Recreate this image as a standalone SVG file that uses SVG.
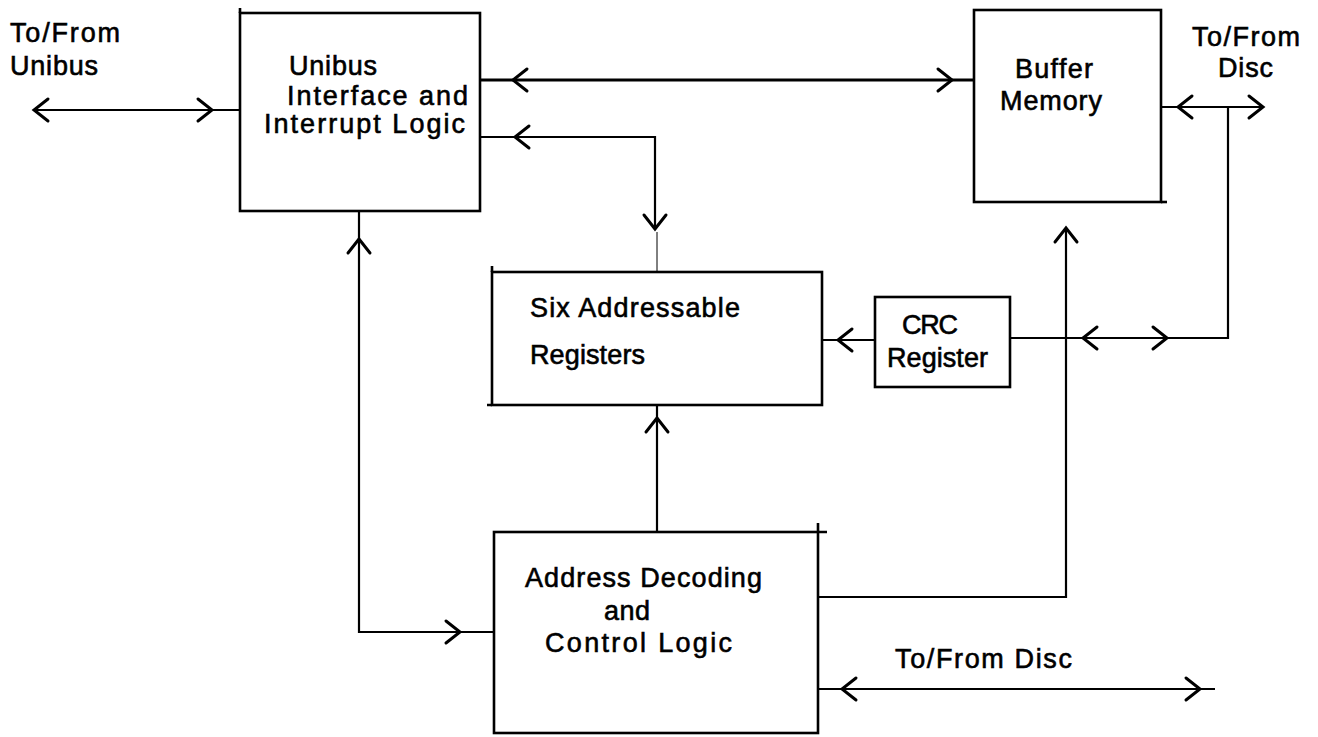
<svg xmlns="http://www.w3.org/2000/svg" xmlns:xlink="http://www.w3.org/1999/xlink" width="1318" height="737" viewBox="0 0 1318 737">
<style>
.box{fill:none;stroke:#000;stroke-width:2.6}
.tick{stroke:#000;stroke-width:2.6;fill:none}
.ln{fill:none;stroke:#000;stroke-width:2.2;stroke-linejoin:miter}
.thick{stroke-width:3.2}
.thin{stroke-width:1}
.ah{fill:none;stroke:#000;stroke-width:3;stroke-linecap:round;stroke-linejoin:miter}
text{font-family:"Liberation Sans",Arial,sans-serif;font-size:27px;fill:#000;stroke:#000;stroke-width:0.6}
</style>
<defs>
<path id="ah" class="ah" d="M14,-11 L0,0 L14,11"/>
</defs>
<rect width="1318" height="737" fill="#fff"/>

<g id="connectors">
<path class="ln" d="M33,110 H240"/>
<use xlink:href="#ah" transform="translate(34,110)"/>
<use xlink:href="#ah" transform="translate(212,110) rotate(180)"/>

<path class="ln thick" d="M480,80 H974"/>
<use xlink:href="#ah" transform="translate(513,80)"/>
<use xlink:href="#ah" transform="translate(952,80) rotate(180)"/>

<path class="ln" d="M480,137 H655 V229"/>
<use xlink:href="#ah" transform="translate(515,137)"/>
<use xlink:href="#ah" transform="translate(655,229) rotate(-90)"/>
<path class="ln thin" d="M657,232 V272"/>

<path class="ln" d="M1161,107 H1263 M1228,107 V338 H1010"/>
<use xlink:href="#ah" transform="translate(1178,107)"/>
<use xlink:href="#ah" transform="translate(1263,107) rotate(180)"/>
<use xlink:href="#ah" transform="translate(1083,338)"/>
<use xlink:href="#ah" transform="translate(1167,338) rotate(180)"/>

<path class="ln" d="M1066,228 V597 H818"/>
<use xlink:href="#ah" transform="translate(1066,228) rotate(90)"/>

<path class="ln" d="M822,340 H875"/>
<use xlink:href="#ah" transform="translate(838,340)"/>

<path class="ln" d="M657,405 V532"/>
<use xlink:href="#ah" transform="translate(657,418) rotate(90)"/>

<path class="ln" d="M359,211 V632 H494"/>
<use xlink:href="#ah" transform="translate(359,239) rotate(90)"/>
<use xlink:href="#ah" transform="translate(460,632) rotate(180)"/>

<path class="ln" d="M818,689 H1215"/>
<use xlink:href="#ah" transform="translate(842,689)"/>
<use xlink:href="#ah" transform="translate(1200,689) rotate(180)"/>
</g>

<g id="label-unibus">
<text x="10" y="42" textLength="110">To/From</text>
<text x="10" y="75" textLength="88">Unibus</text>
</g>

<g id="node-unibus-interface">
<rect class="box" x="240" y="13" width="240" height="198"/>
<path class="tick" d="M240,8 V13"/>
<text x="289" y="75" textLength="88">Unibus</text>
<text x="287" y="105" textLength="181">Interface and</text>
<text x="264" y="133" textLength="201">Interrupt Logic</text>
</g>

<g id="node-buffer-memory">
<rect class="box" x="974" y="10" width="187" height="192"/>
<path class="tick" d="M1161,202 H1167"/>
<text x="1015" y="78" textLength="78">Buffer</text>
<text x="1000" y="110" textLength="102">Memory</text>
</g>

<g id="label-disc-top">
<text x="1192" y="46" textLength="108">To/From</text>
<text x="1218" y="77" textLength="55">Disc</text>
</g>

<g id="node-six-registers">
<rect class="box" x="492" y="272" width="330" height="133"/>
<path class="tick" d="M492,266 V272 M487,405 H492"/>
<text x="530" y="317" textLength="210">Six Addressable</text>
<text x="530" y="364" textLength="115">Registers</text>
</g>

<g id="node-crc">
<rect class="box" x="875" y="297" width="135" height="90"/>
<text x="902" y="334" textLength="56">CRC</text>
<text x="887" y="367" textLength="101">Register</text>
</g>

<g id="node-address-decoding">
<rect class="box" x="494" y="532" width="324" height="201"/>
<path class="tick" d="M818,532 H827 M818,523 V532"/>
<text x="525" y="587" textLength="237">Address Decoding</text>
<text x="604" y="620" textLength="46">and</text>
<text x="545" y="652" textLength="187">Control Logic</text>
</g>

<g id="label-disc-bottom">
<text x="895" y="668" textLength="177">To/From Disc</text>
</g>
</svg>
